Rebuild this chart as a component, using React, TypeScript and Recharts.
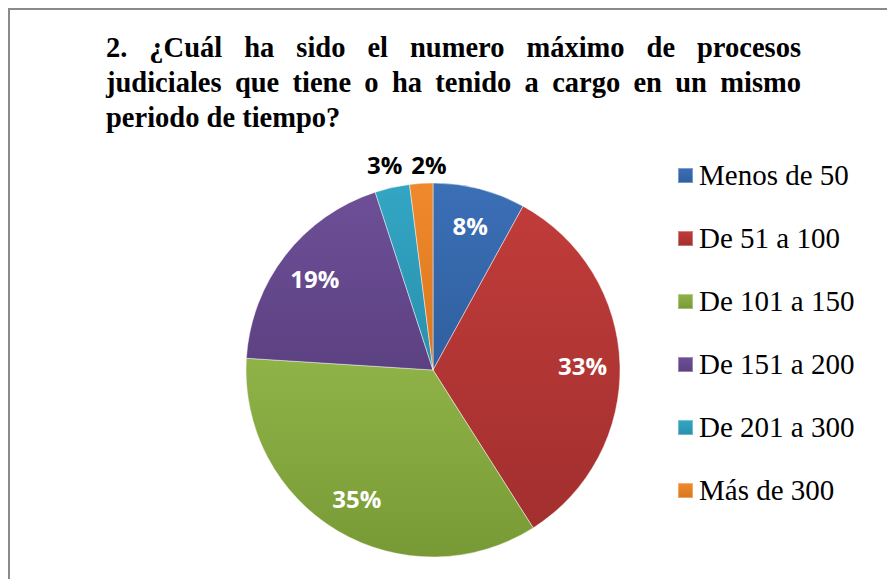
import { PieChart, Pie, Cell, Legend } from 'recharts';

const categories = ['Menos de 50', 'De 51 a 100', 'De 101 a 150', 'De 151 a 200', 'De 201 a 300', 'Más de 300'];
const percentages = [8, 33, 35, 19, 3, 2];
const colors = ['#3b6fb6', '#c03c3a', '#8fb347', '#6d4f97', '#33a6c4', '#f0892c'];
const darkColors = ['#2f5f9f', '#a22f2e', '#789a36', '#5c4182', '#2890ad', '#d9761f'];

const titleLines = [
  '2. ¿Cuál ha sido el numero máximo de procesos',
  'judiciales que tiene o ha tenido a cargo en un mismo',
  'periodo de tiempo?',
];

const data = categories.map((name, i) => ({ name, value: percentages[i] }));

const RAD = Math.PI / 180;

// small slices get their label outside the pie, pushed apart a bit
const renderLabel = (props: any) => {
  const { cx, cy, midAngle, outerRadius, value, index } = props;
  const outside = value < 5;
  const r = outside ? outerRadius + 21 : outerRadius * 0.8;
  let x = cx + r * Math.cos(-midAngle * RAD);
  let y = cy + r * Math.sin(-midAngle * RAD);
  if (outside) {
    x += index === data.length - 1 ? 9 : -3;
    y = cy - outerRadius - 19;
  }
  return (
    <text
      x={x}
      y={y}
      fill={outside ? '#000' : '#fff'}
      textAnchor="middle"
      dominantBaseline="central"
      style={{ fontFamily: '"Open Sans", sans-serif', fontWeight: 700, fontSize: 24 }}
    >
      {value}%
    </text>
  );
};

const renderLegend = (props: any) => {
  const { payload } = props;
  return (
    <div>
      {payload.map((entry: any, i: number) => (
        <div key={entry.value} style={{ display: 'flex', alignItems: 'center', height: 63 }}>
          <span
            style={{
              display: 'inline-block',
              width: 15,
              height: 15,
              marginRight: 6,
              background: `linear-gradient(${colors[i]}, ${darkColors[i]})`,
              boxShadow: 'inset 0 0 0 1px rgba(255,255,255,0.35)',
            }}
          />
          <span style={{ fontFamily: '"Liberation Serif", serif', fontSize: 29, color: '#000' }}>{entry.value}</span>
        </div>
      ))}
    </div>
  );
};

export default function App() {
  return (
    <div style={{ position: 'absolute', left: 0, top: 0, width: 887, height: 579, background: '#fff', overflow: 'hidden' }}>
      <div
        style={{
          position: 'absolute',
          left: 8,
          top: 8,
          width: 900,
          height: 600,
          borderTop: '2px solid #8a8a8a',
          borderLeft: '2px solid #8a8a8a',
        }}
      />
      <div
        style={{
          position: 'absolute',
          left: 106,
          top: 30,
          width: 695,
          fontFamily: '"Liberation Serif", serif',
          fontWeight: 700,
          fontSize: 28.5,
          lineHeight: '35px',
          color: '#000',
        }}
      >
        {titleLines.map((line, i) => (
          <div key={i} style={{ textAlign: 'justify', textAlignLast: i < titleLines.length - 1 ? 'justify' : 'left' }}>
            {line}
          </div>
        ))}
      </div>
      <div style={{ position: 'absolute', left: 0, top: 0 }}>
        <PieChart width={887} height={579} margin={{ top: 0, right: 0, bottom: 0, left: 0 }}>
          <defs>
            {colors.map((c, i) => (
              <linearGradient key={i} id={`slice${i}`} x1="0" y1="0" x2="0" y2="1">
                <stop offset="0%" stopColor={c} />
                <stop offset="100%" stopColor={darkColors[i]} />
              </linearGradient>
            ))}
          </defs>
          <Pie
            data={data}
            dataKey="value"
            nameKey="name"
            cx={433}
            cy={370}
            outerRadius={187}
            startAngle={90}
            endAngle={-270}
            stroke="rgba(255,255,255,0.45)"
            strokeWidth={1}
            label={renderLabel}
            labelLine={false}
            isAnimationActive={false}
          >
            {data.map((d, i) => (
              <Cell key={d.name} fill={`url(#slice${i})`} />
            ))}
          </Pie>
          <Legend
            layout="vertical"
            align="right"
            verticalAlign="top"
            content={renderLegend}
            itemSorter={(item: any) => categories.indexOf(item.value)}
            wrapperStyle={{ left: 678, top: 144, width: 209 }}
          />
        </PieChart>
      </div>
    </div>
  );
}
